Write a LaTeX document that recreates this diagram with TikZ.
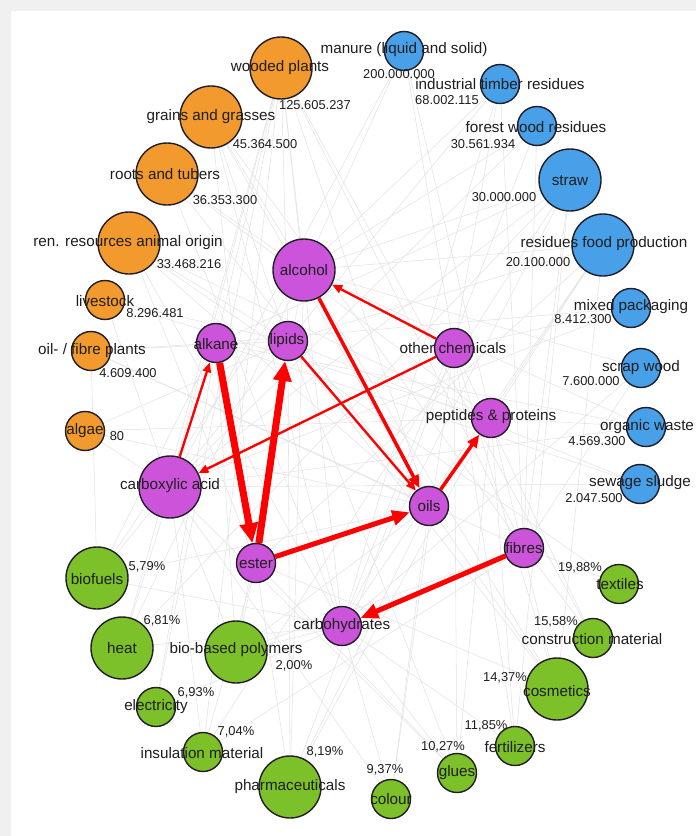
\documentclass[tikz,border=0pt]{standalone}
\usepackage{fontspec}
\setmainfont{Liberation Sans}
\usetikzlibrary{arrows.meta}
\usetikzlibrary{backgrounds}

\definecolor{rawA}{RGB}{243,154,46}
\definecolor{rawB}{RGB}{72,160,232}
\definecolor{inter}{RGB}{204,84,218}
\definecolor{prod}{RGB}{124,192,42}
\definecolor{rim}{RGB}{34,30,40}
\definecolor{txt}{RGB}{30,30,30}
\definecolor{frame}{RGB}{240,240,240}

\begin{document}
\begin{tikzpicture}[x=0.03cm,y=-0.03cm,
                big node/.style={circle,draw=rim,line width=1.2pt,minimum size=1.86cm,inner sep=0pt},
                small node/.style={circle,draw=rim,line width=1.2pt,minimum size=1.17cm,inner sep=0pt},
                lbl/.style={text=txt,font=\fontsize{13}{15}\selectfont,inner sep=0pt},
                val/.style={text=txt,font=\fontsize{11}{13}\selectfont,inner sep=0pt},
                link/.style={draw=gray!22,line width=0.45pt},
                flow/.style={draw=red,-{Triangle[length=8.5pt,width=7pt]},line width=2pt},
                mid flow/.style={draw=red,-{Triangle[length=11pt,width=9pt]},line width=3pt},
                wide flow/.style={draw=red,-{Triangle[length=15pt,width=12.5pt]},line width=4.3pt},
                fat flow/.style={draw=red,-{Triangle[length=17pt,width=15pt]},line width=6pt},
                ]
                \useasboundingbox (0,0) rectangle (696,836);

                % raw materials (plants)
                \node[big node, fill=rawA] (wood) at (281,68) {};
                \node[big node, fill=rawA] (grain) at (211,117) {};
                \node[big node, fill=rawA] (roots) at (167,174) {};
                \node[big node, fill=rawA] (animal) at (129,243) {};
                \node[small node, fill=rawA] (live) at (105,300) {};
                \node[small node, fill=rawA] (oilpl) at (91,351) {};
                \node[small node, fill=rawA] (algae) at (85,431) {};

                % raw materials (residues)
                \node[small node, fill=rawB] (manure) at (404,51) {};
                \node[small node, fill=rawB] (timber) at (500,84) {};
                \node[small node, fill=rawB] (forest) at (537,126) {};
                \node[big node, fill=rawB] (straw) at (570,180) {};
                \node[big node, fill=rawB] (food) at (603,245) {};
                \node[small node, fill=rawB] (pack) at (631,308) {};
                \node[small node, fill=rawB] (scrap) at (641,368) {};
                \node[small node, fill=rawB] (organic) at (646,427) {};
                \node[small node, fill=rawB] (sewage) at (640,484) {};

                % intermediates
                \node[big node, fill=inter] (alcohol) at (304,270) {};
                \node[small node, fill=inter] (alkane) at (216,343) {};
                \node[small node, fill=inter] (lipids) at (288,341) {};
                \node[small node, fill=inter] (other) at (454,348) {};
                \node[small node, fill=inter] (peptides) at (491,418) {};
                \node[big node, fill=inter] (carbox) at (170,487) {};
                \node[small node, fill=inter] (oils) at (429,506) {};
                \node[small node, fill=inter] (ester) at (256,563) {};
                \node[small node, fill=inter] (fibres) at (524,548) {};
                \node[small node, fill=inter] (carbo) at (342,626) {};

                % products
                \node[big node, fill=prod] (biofuel) at (97,578) {};
                \node[big node, fill=prod] (heat) at (122,648) {};
                \node[big node, fill=prod] (polymer) at (236,652) {};
                \node[small node, fill=prod] (electr) at (156,707) {};
                \node[small node, fill=prod] (insul) at (203,752) {};
                \node[big node, fill=prod] (pharma) at (290,787) {};
                \node[small node, fill=prod] (colour) at (391,799) {};
                \node[small node, fill=prod] (glues) at (457,773) {};
                \node[small node, fill=prod] (fert) at (515,746) {};
                \node[big node, fill=prod] (cosm) at (557,689) {};
                \node[small node, fill=prod] (constr) at (593,638) {};
                \node[small node, fill=prod] (textil) at (619,584) {};

                \begin{scope}[on background layer]
                \fill[frame] (0,0) rectangle (696,836);
                \fill[white] (11,11) rectangle (696,836);
                \foreach \a/\b in {wood/alcohol, wood/alkane, wood/carbox, wood/fibres, wood/carbo, wood/lipids, wood/oils,
                                   grain/alcohol, grain/carbo, grain/fibres, grain/lipids, grain/ester, grain/oils,
                                   roots/carbo, roots/alcohol, roots/oils, roots/peptides,
                                   animal/lipids, animal/peptides, animal/oils, animal/ester, animal/carbo,
                                   live/peptides, live/lipids, live/carbox,
                                   oilpl/oils, oilpl/lipids, oilpl/fibres, oilpl/alkane,
                                   algae/lipids, algae/oils, algae/carbox, algae/peptides,
                                   manure/carbox, manure/alcohol, manure/peptides, manure/other,
                                   timber/fibres, timber/alcohol, timber/carbo, timber/other, timber/lipids,
                                   forest/fibres, forest/carbo, forest/alcohol, forest/carbox,
                                   straw/fibres, straw/carbo, straw/alcohol, straw/carbox, straw/alkane,
                                   food/oils, food/lipids, food/peptides, food/carbo, food/alcohol, food/ester,
                                   pack/other, pack/alkane, pack/carbox,
                                   scrap/fibres, scrap/carbo, scrap/alcohol,
                                   organic/carbox, organic/alcohol, organic/peptides, organic/alkane,
                                   sewage/lipids, sewage/carbox, sewage/alkane,
                                   alcohol/biofuel, alcohol/heat, alcohol/cosm, alcohol/pharma, alcohol/polymer,
                                   alkane/biofuel, alkane/heat, alkane/electr, alkane/polymer,
                                   lipids/cosm, lipids/pharma, lipids/biofuel, lipids/glues,
                                   other/pharma, other/cosm, other/colour, other/fert, other/glues, other/constr,
                                   peptides/pharma, peptides/cosm, peptides/fert, peptides/glues,
                                   carbox/polymer, carbox/glues, carbox/insul, carbox/colour,
                                   oils/cosm, oils/biofuel, oils/pharma, oils/polymer, oils/colour,
                                   ester/polymer, ester/glues, ester/cosm, ester/insul, ester/pharma,
                                   fibres/textil, fibres/constr, fibres/insul, fibres/polymer,
                                   carbo/heat, carbo/electr, carbo/biofuel, carbo/polymer, carbo/glues, carbo/fert, carbo/colour,
                                   wood/heat, wood/electr, wood/constr, wood/insul,
                                   straw/heat, straw/insul, straw/fert, food/cosm, animal/textil, oilpl/biofuel}
                    \draw[link] (\a) -- (\b);
                \end{scope}

                % conversion paths
                \draw[flow] (other) -- (alcohol);
                \draw[flow] (other) -- (carbox);
                \draw[flow] (carbox) -- (alkane);
                \draw[fat flow] (alkane) -- (ester);
                \draw[fat flow] (ester) -- (lipids);
                \draw[flow] (lipids) -- (oils);
                \draw[mid flow] (alcohol) -- (oils);
                \draw[wide flow] (ester) -- (oils);
                \draw[mid flow] (oils) -- (peptides);
                \draw[wide flow] (fibres) -- (carbo);

                % labels
                \node[lbl] (wood-l) at (280,68) {wooded plants};
                \node[val] (wood-v) at (315,105) {125.605.237};
                \node[lbl] (grain-l) at (211,117) {grains and grasses};
                \node[val] (grain-v) at (265,144) {45.364.500};
                \node[lbl] (roots-l) at (165,174) {roots and tubers};
                \node[val] (roots-v) at (225,200) {36.353.300};
                \node[lbl] (animal-l) at (128,243) {ren. resources animal origin};
                \node[val] (animal-v) at (189,264) {33.468.216};
                \node[lbl] (live-l) at (105,301) {livestock};
                \node[val] (live-v) at (155,313) {8.296.481};
                \node[lbl] (oilpl-l) at (92,351) {oil- / fibre plants};
                \node[val] (oilpl-v) at (128,373) {4.609.400};
                \node[lbl] (algae-l) at (85,431) {algae};
                \node[val] (algae-v) at (117,436) {80};

                \node[lbl] (manure-l) at (404,50) {manure (liquid and solid)};
                \node[val] (manure-v) at (399,74) {200.000.000};
                \node[lbl] (timber-l) at (500,84) {industrial timber residues};
                \node[val] (timber-v) at (447,100) {68.002.115};
                \node[lbl] (forest-l) at (536,127) {forest wood residues};
                \node[val] (forest-v) at (483,144) {30.561.934};
                \node[lbl] (straw-l) at (570,181) {straw};
                \node[val] (straw-v) at (504,197) {30.000.000};
                \node[lbl] (food-l) at (604,244) {residues food production};
                \node[val] (food-v) at (538,262) {20.100.000};
                \node[lbl] (pack-l) at (631,307) {mixed packaging};
                \node[val] (pack-v) at (583,319) {8.412.300};
                \node[lbl] (scrap-l) at (641,368) {scrap wood};
                \node[val] (scrap-v) at (591,381) {7.600.000};
                \node[lbl] (organic-l) at (647,427) {organic waste};
                \node[val] (organic-v) at (597,441) {4.569.300};
                \node[lbl] (sewage-l) at (640,483) {sewage sludge};
                \node[val] (sewage-v) at (594,498) {2.047.500};

                \node[lbl] (alcohol-l) at (304,270) {alcohol};
                \node[lbl] (alkane-l) at (216,344) {alkane};
                \node[lbl] (lipids-l) at (287,341) {lipids};
                \node[lbl] (other-l) at (453,348) {other chemicals};
                \node[lbl] (peptides-l) at (491,417) {peptides \& proteins};
                \node[lbl] (carbox-l) at (170,486) {carboxylic acid};
                \node[lbl] (oils-l) at (429,506) {oils};
                \node[lbl] (ester-l) at (256,564) {ester};
                \node[lbl] (fibres-l) at (524,548) {fibres};
                \node[lbl] (carbo-l) at (342,626) {carbohydrates};

                \node[lbl] (biofuel-l) at (97,579) {biofuels};
                \node[val] (biofuel-v) at (147,567) {5,79\%};
                \node[lbl] (heat-l) at (122,648) {heat};
                \node[val] (heat-v) at (162,621) {6,81\%};
                \node[lbl] (polymer-l) at (236,650) {bio-based polymers};
                \node[val] (polymer-v) at (294,666) {2,00\%};
                \node[lbl] (electr-l) at (156,707) {electricity};
                \node[val] (electr-v) at (196,693) {6,93\%};
                \node[lbl] (insul-l) at (202,753) {insulation material};
                \node[val] (insul-v) at (236,732) {7,04\%};
                \node[lbl] (pharma-l) at (290,787) {pharmaceuticals};
                \node[val] (pharma-v) at (325,752) {8,19\%};
                \node[lbl] (colour-l) at (391,799) {colour};
                \node[val] (colour-v) at (385,770) {9,37\%};
                \node[lbl] (glues-l) at (457,773) {glues};
                \node[val] (glues-v) at (443,747) {10,27\%};
                \node[lbl] (fert-l) at (515,747) {fertilizers};
                \node[val] (fert-v) at (486,726) {11,85\%};
                \node[lbl] (cosm-l) at (557,691) {cosmetics};
                \node[val] (cosm-v) at (505,678) {14,37\%};
                \node[lbl] (constr-l) at (592,639) {construction material};
                \node[val] (constr-v) at (556,622) {15,58\%};
                \node[lbl] (textil-l) at (620,584) {textiles};
                \node[val] (textil-v) at (580,568) {19,88\%};
\end{tikzpicture}
\end{document}
